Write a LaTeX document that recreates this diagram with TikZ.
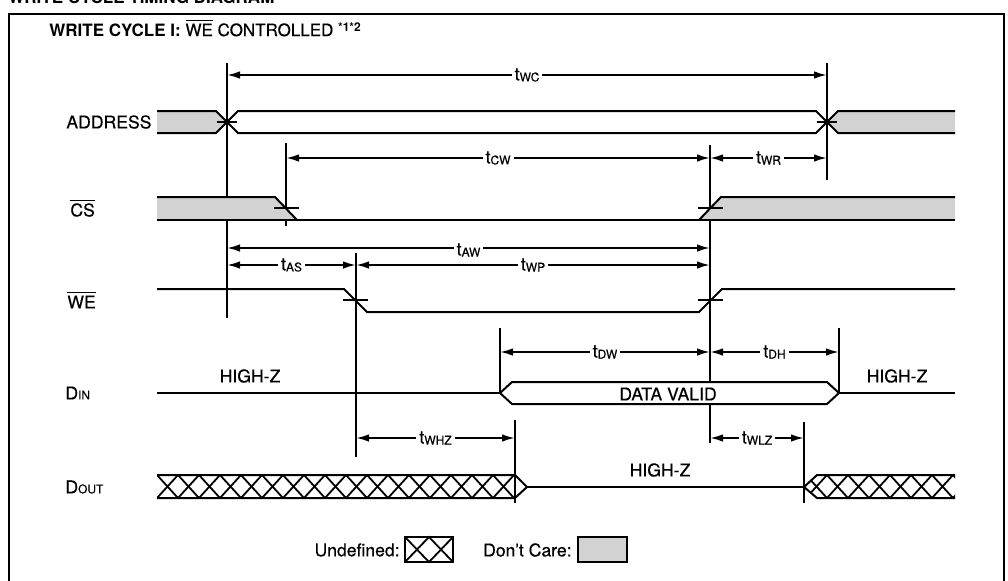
\documentclass[tikz,border=0pt]{standalone}
\usepackage{fontspec}
\setmainfont{TeX Gyre Heros}[UprightFeatures={FakeBold=0.4}]
\usetikzlibrary{arrows.meta,positioning}
\tikzset{
  sig/.style={line width=1pt},
  dontcare/.style={fill=gray!35},
  hatch/.style={line width=0.9pt},
  vline/.style={line width=1pt},
  dim/.style={{Latex[length=6.5pt,width=3.8pt]}-{Latex[length=6.5pt,width=3.8pt]}, line width=1pt},
  tlab/.style={fill=white, inner sep=1.5pt, font=\fontsize{9}{10}\selectfont},
  siglab/.style={anchor=west, inner sep=0pt, font=\fontsize{8.8}{10}\selectfont},
  legend/.style={anchor=east, inner sep=0pt, font=\fontsize{8.8}{10}\selectfont}
}
\newcommand{\tm}[1]{t\raisebox{-0.5pt}{\fontsize{6}{6}\selectfont #1}}
\newcommand{\lowsub}[1]{{\fontsize{6}{6}\selectfont #1}}

\begin{document}
\begin{tikzpicture}[x=0.5pt, y=-0.5pt]
  \useasboundingbox (0,0) rectangle (1008,580);

  % frame and headings
  \node[anchor=base west, inner sep=0pt, font=\fontsize{8.5}{10}\selectfont\bfseries] (head) at (8,3) {WRITE CYCLE TIMING DIAGRAM};
  \draw[line width=1pt] (9,590) -- (9,14) -- (1004,14) -- (1004,590);
  \node[anchor=west, inner sep=0pt, font=\fontsize{8.5}{10}\selectfont] (title) at (49,28)
    {\textbf{WRITE CYCLE I:} $\overline{\mbox{WE}}$ CONTROLLED \raisebox{2.5pt}{\fontsize{6}{6}\selectfont\bfseries *1*2}};

  % signal names
  \node[siglab] (addr) at (66,122) {ADDRESS};
  \node[siglab] (cs) at (70,208) {$\overline{\mbox{CS}}$};
  \node[siglab] (we) at (67,300) {$\overline{\mbox{WE}}$};
  \node[siglab] (din) at (65,393) {D\lowsub{IN}};
  \node[siglab] (dout) at (65,487) {D\lowsub{OUT}};

  % reference lines
  \draw[vline] (227,63) -- (227,318);
  \draw[vline] (286,143) -- (286,226);
  \draw[vline] (356,253) -- (356,457);
  \draw[vline] (710,145) -- (710,382) (710,404) -- (710,443);
  \draw[vline] (827,63) -- (827,180);
  \draw[vline] (500,328) -- (500,393);
  \draw[vline] (839,328) -- (839,393);
  \draw[vline] (515,420) -- (515,503);
  \draw[vline] (804,422) -- (804,503);

  % ADDRESS
  \draw[sig, dontcare] (157,111) -- (216,111) -- (227,122) -- (216,133) -- (157,133);
  \draw[sig] (227,122) -- (238,111) -- (816,111) -- (827,122) -- (816,133) -- (238,133) -- cycle;
  \draw[sig, dontcare] (955,111) -- (838,111) -- (827,122) -- (838,133) -- (955,133);
  \draw[sig] (217,122) -- (237,122) (817,122) -- (837,122);

  % CS
  \fill[dontcare] (157,197) -- (275,197) -- (297,220) -- (157,220) -- cycle;
  \fill[dontcare] (699,220) -- (721,197) -- (955,197) -- (955,220) -- cycle;
  \draw[sig] (157,197) -- (275,197) -- (297,220);
  \draw[sig] (157,220) -- (955,220);
  \draw[sig] (699,220) -- (721,197) -- (955,197);
  \draw[sig] (274,208) -- (299,208) (698,208) -- (723,208);

  % WE
  \draw[sig] (157,289) -- (344,289) -- (367,312) -- (699,312) -- (722,289) -- (955,289);
  \draw[sig] (343,300) -- (368,300) (698,300) -- (723,300);

  % D_IN
  \draw[sig] (157,393) -- (500,393);
  \draw[sig] (500,393) -- (512,382) -- (827,382) -- (839,393) -- (827,404) -- (512,404) -- cycle;
  \draw[sig] (839,393) -- (955,393);
  \node[siglab, anchor=center] (hz1) at (250,376) {HIGH-Z};
  \node[siglab, anchor=center] (valid) at (668,394) {DATA VALID};
  \node[siglab, anchor=center] (hz2) at (897,376) {HIGH-Z};

  % D_OUT
  \begin{scope}
    \clip (157,475) rectangle (515,498);
    \foreach \x in {157,178,...,515}
      \draw[hatch] (\x,475) -- ++(21,23) (\x,498) -- ++(21,-23);
  \end{scope}
  \begin{scope}
    \clip (804,487) -- (817,475) -- (955,475) -- (955,498) -- (817,498) -- cycle;
    \foreach \x in {806,827,...,955}
      \draw[hatch] (\x,475) -- ++(21,23) (\x,498) -- ++(21,-23);
  \end{scope}
  \draw[sig] (157,475) -- (515,475) -- (527,487) -- (515,498) -- (157,498);
  \draw[sig] (527,487) -- (804,487);
  \draw[sig] (955,475) -- (817,475) -- (804,487) -- (817,498) -- (955,498);
  \node[siglab, anchor=center] (hz3) at (660,470) {HIGH-Z};

  % timing arrows
  \coordinate (wcA) at (227,75);  \coordinate (wcB) at (827,75);
  \coordinate (cwA) at (286,158); \coordinate (cwB) at (710,158);
  \coordinate (wrA) at (710,158); \coordinate (wrB) at (827,158);
  \coordinate (awA) at (227,248); \coordinate (awB) at (710,248);
  \coordinate (asA) at (227,265); \coordinate (asB) at (356,265);
  \coordinate (wpA) at (356,265); \coordinate (wpB) at (710,265);
  \coordinate (dwA) at (500,352); \coordinate (dwB) at (710,352);
  \coordinate (dhA) at (710,352); \coordinate (dhB) at (839,352);
  \coordinate (whzA) at (356,438); \coordinate (whzB) at (515,438);
  \coordinate (wlzA) at (710,438); \coordinate (wlzB) at (804,438);
  \draw[dim] (wcA) -- node[tlab] (twc) {\tm{WC}} (wcB);
  \draw[dim] (cwA) -- node[tlab] (tcw) {\tm{CW}} (cwB);
  \draw[dim] (wrA) -- node[tlab] (twr) {\tm{WR}} (wrB);
  \draw[dim] (awA) -- node[tlab, yshift=-1pt] (taw) {\tm{AW}} (awB);
  \draw[dim] (asA) -- node[tlab] (tas) {\tm{AS}} (asB);
  \draw[dim] (wpA) -- node[tlab] (twp) {\tm{WP}} (wpB);
  \draw[dim] (dwA) -- node[tlab] (tdw) {\tm{DW}} (dwB);
  \draw[dim] (dhA) -- node[tlab] (tdh) {\tm{DH}} (dhB);
  \draw[dim] (whzA) -- node[tlab] (twhz) {\tm{WHZ}} (whzB);
  \draw[dim] (wlzA) -- node[tlab] (twlz) {\tm{WLZ}} (wlzB);

  % legend
  \node[legend] (undef) at (400,550) {Undefined:};
  \draw[sig] (405,537) rectangle (453,562);
  \draw[hatch] (405,537) -- (429,562) -- (453,537) (405,562) -- (429,537) -- (453,562);
  \node[legend] (dcare) at (572,550) {Don't Care:};
  \draw[sig, dontcare] (578,537) rectangle (627,562);
\end{tikzpicture}
\end{document}
